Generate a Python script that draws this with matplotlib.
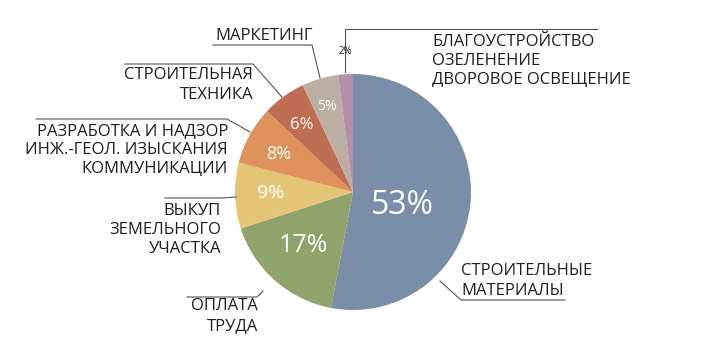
import matplotlib.pyplot as plt

# shares of the budget, clockwise from the top
categories = ['СТРОИТЕЛЬНЫЕ\nМАТЕРИАЛЫ', 'ОПЛАТА\nТРУДА', 'ВЫКУП\nЗЕМЕЛЬНОГО\nУЧАСТКА',
              'РАЗРАБОТКА И НАДЗОР\nИНЖ.-ГЕОЛ. ИЗЫСКАНИЯ\nКОММУНИКАЦИИ',
              'СТРОИТЕЛЬНАЯ\nТЕХНИКА', 'МАРКЕТИНГ',
              'БЛАГОУСТРОЙСТВО\nОЗЕЛЕНЕНИЕ\nДВОРОВОЕ ОСВЕЩЕНИЕ']
values = [53, 17, 9, 8, 6, 5, 2]
colors = ['#7a8fa7', '#8fa36b', '#e4c577', '#df925a', '#bf6e51', '#bbafa4', '#b48fa7']

plt.rcParams['font.family'] = ['Open Sans', 'DejaVu Sans']

W, H = 705, 360
fig = plt.figure(figsize=(W / 100, H / 100), dpi=100)
ax = fig.add_axes([0, 0, 1, 1])

def Y(y):
    return H - y

cx, cy, R = 353, 192, 118
ax.pie(values, colors=colors, startangle=90, counterclock=False,
       center=(cx, Y(cy)), radius=R, frame=True,
       wedgeprops=dict(linewidth=0))
ax.set_xlim(0, W)
ax.set_ylim(0, H)
ax.set_aspect('equal')
ax.axis('off')

# percent labels inside slices: (x, y, size, colour)
pct_style = [(402, 205, 23, 'white'), (303, 246, 18, 'white'), (271, 193, 14, 'white'),
             (279, 154, 13, 'white'), (302, 125, 12, 'white'), (327, 107, 10, 'white'),
             (345, 52, 7, '#222222')]
for v, (x, y, s, c) in zip(values, pct_style):
    ax.text(x, Y(y), f'{v}%', ha='center', va='center', fontsize=s, color=c)

lc = '#555555'
tc = '#1e1e1e'
fs = 12
def leader(pts):
    ax.plot([p[0] for p in pts], [Y(p[1]) for p in pts], color=lc, lw=0.8)

def label(x, y, s, ha):
    ax.text(x, Y(y), s, ha=ha, va='center', fontsize=fs, color=tc, linespacing=1.28)

# СТРОИТЕЛЬНЫЕ МАТЕРИАЛЫ
label(461, 281, categories[0], 'left')
leader([(440, 281), (461, 300), (565, 300)])
# ОПЛАТА ТРУДА
label(258, 316, categories[1], 'right')
leader([(263, 291), (257, 297), (187, 297)])
# ВЫКУП
label(221, 230, categories[2], 'right')
leader([(236, 197), (222, 198), (165, 198)])
# РАЗРАБОТКА
label(228, 150, categories[3], 'right')
leader([(250, 132), (227, 119), (36, 119)])
# СТРОИТЕЛЬНАЯ ТЕХНИКА
label(253, 85, categories[4], 'right')
leader([(282, 97), (253, 64), (125, 64)])
# МАРКЕТИНГ
label(313, 36, categories[5], 'right')
leader([(320, 78), (312, 45), (213, 45)])
# БЛАГОУСТРОЙСТВО
label(432, 61, categories[6], 'left')
leader([(345, 72), (345, 29), (597, 29)])

fig.savefig('out.png', dpi=100)
